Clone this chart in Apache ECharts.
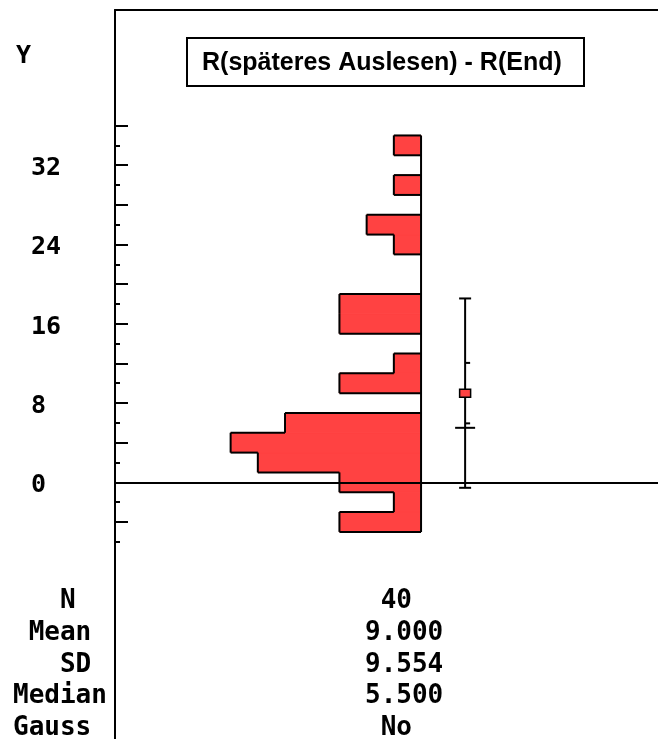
<!DOCTYPE html>
<html>
<head>
<meta charset="utf-8">
<script src="https://cdn.jsdelivr.net/npm/echarts@6.0.0/dist/echarts.min.js"></script>
<style>
html,body{margin:0;padding:0;background:#fff;}
#chart{width:658px;height:739px;}
</style>
</head>
<body>
<div id="chart"></div>
<script>
// ---- data ----
const chartTitle = 'R(späteres Auslesen) - R(End)';
const axisName = 'Y';
const binLow  = [-5, -3, -1, 1, 3, 5, 7, 9, 11, 13, 15, 17, 19, 21, 23, 25, 27, 29, 31, 33];
const binHigh = [-3, -1, 1, 3, 5, 7, 9, 11, 13, 15, 17, 19, 21, 23, 25, 27, 29, 31, 33, 35];
const counts  = [3, 1, 3, 6, 7, 5, 0, 3, 1, 0, 3, 3, 0, 0, 1, 2, 0, 1, 0, 1];
const yLabelValues = [0, 8, 16, 24, 32];
const yMajorTicks = [-4, 0, 4, 8, 12, 16, 20, 24, 28, 32, 36];
const yMinorTicks = [-6, -2, 2, 6, 10, 14, 18, 22, 26, 30, 34];
const meanValue = 9.0;
const sdValue = 9.554;
const medianValue = 5.5;
const ciLow = 5.95;
const ciHigh = 12.05;
const statLabels = ['   N', ' Mean', '   SD', 'Median', 'Gauss'];
const statValues = [' 40', '9.000', '9.554', '5.500', ' No'];

// ---- layout / style constants ----
const RED = '#ff4242';
const MONO = 'DejaVu Sans Mono';
const Y_MIN = -25.9, Y_MAX = 47.66;
const X_MIN = -8.71, X_MAX = 11.25;
const ERR_X = -1.62;
const statRowY = [601, 633, 665, 696, 728];

const chart = echarts.init(document.getElementById('chart'), null, {renderer: 'canvas'});

const histData = binLow.map((lo, i) => [counts[i], lo, binHigh[i]]);

const lineEl = (a, b) => ({
  type: 'line',
  shape: {x1: a[0], y1: a[1], x2: b[0], y2: b[1]},
  style: {stroke: '#000', lineWidth: 2}
});

const graphics = [
  {type: 'text', x: 16, y: 56, style: {text: axisName, fontFamily: MONO, fontWeight: 'bold', fontSize: 25, fill: '#000', align: 'left', verticalAlign: 'middle'}}
];
statLabels.forEach((t, i) => {
  graphics.push({type: 'text', x: 13, y: statRowY[i], style: {text: t, fontFamily: MONO, fontWeight: 'bold', fontSize: 26, fill: '#000', align: 'left', verticalAlign: 'middle'}});
});
statValues.forEach((t, i) => {
  graphics.push({type: 'text', x: 365, y: statRowY[i], style: {text: t, fontFamily: MONO, fontWeight: 'bold', fontSize: 26, fill: '#000', align: 'left', verticalAlign: 'middle'}});
});

const option = {
  animation: false,
  backgroundColor: '#fff',
  title: {
    text: chartTitle,
    left: 187, top: 38,
    borderColor: '#000', borderWidth: 2,
    padding: [13, 22, 11, 15],
    textStyle: {fontFamily: 'Liberation Sans', fontSize: 25, fontWeight: 'bold', color: '#000', lineHeight: 24}
  },
  grid: {left: 115, right: 0, top: 10, bottom: 0},
  xAxis: [
    {type: 'value', inverse: true, min: X_MIN, max: X_MAX, position: 'bottom', z: 10,
     axisLine: {show: true, onZero: true, lineStyle: {color: '#000', width: 2}},
     axisTick: {show: false}, axisLabel: {show: false}, splitLine: {show: false}},
    {type: 'value', inverse: true, min: X_MIN, max: X_MAX, position: 'top',
     axisLine: {show: true, onZero: false, lineStyle: {color: '#000', width: 2}},
     axisTick: {show: false}, axisLabel: {show: false}, splitLine: {show: false}}
  ],
  yAxis: [
    {type: 'value', min: Y_MIN, max: Y_MAX, position: 'left',
     axisLine: {show: true, onZero: false, lineStyle: {color: '#000', width: 2}},
     axisTick: {show: true, inside: true, length: 13, customValues: yMajorTicks, lineStyle: {color: '#000', width: 2}},
     axisLabel: {show: true, customValues: yLabelValues, align: 'left', margin: 84,
                 formatter: v => '{a|' + v + '}',
                 rich: {a: {fontFamily: MONO, fontWeight: 'bold', fontSize: 25, color: '#000', padding: [7, 0, 0, 0]}},
                 fontFamily: MONO, fontWeight: 'bold', fontSize: 25, color: '#000'},
     splitLine: {show: false}},
    {type: 'value', min: Y_MIN, max: Y_MAX, position: 'left',
     axisLine: {show: false, onZero: false},
     axisTick: {show: true, inside: true, length: 5, customValues: yMinorTicks, lineStyle: {color: '#000', width: 2}},
     axisLabel: {show: false}, splitLine: {show: false}}
  ],
  graphic: graphics,
  series: [
    {
      type: 'custom', xAxisIndex: 0, yAxisIndex: 0, z: 2,
      data: histData,
      encode: {x: 0, y: [1, 2]},
      renderItem: (params, api) => {
        const c = api.value(0), lo = api.value(1), hi = api.value(2);
        if (!c) return {type: 'group', children: []};
        const p1 = api.coord([c, hi]);
        const p0 = api.coord([0, lo]);
        return {type: 'rect', shape: {x: p1[0], y: p1[1], width: p0[0] - p1[0], height: p0[1] - p1[1]},
                style: {fill: RED, stroke: RED, lineWidth: 1}};
      }
    },
    {
      type: 'custom', xAxisIndex: 0, yAxisIndex: 0, z: 3,
      data: histData,
      encode: {x: 0, y: [1, 2]},
      renderItem: (params, api) => {
        const i = params.dataIndex;
        const c = api.value(0), lo = api.value(1), hi = api.value(2);
        const n = counts.length;
        const children = [];
        if (c > 0) children.push(lineEl(api.coord([c, lo]), api.coord([c, hi])));
        const cAbove = i + 1 < n ? counts[i + 1] : 0;
        if (c !== cAbove) children.push(lineEl(api.coord([Math.min(c, cAbove), hi]), api.coord([Math.max(c, cAbove), hi])));
        if (i === 0) {
          if (c > 0) children.push(lineEl(api.coord([0, lo]), api.coord([c, lo])));
          children.push(lineEl(api.coord([0, binLow[0]]), api.coord([0, binHigh[n - 1]])));
        }
        return {type: 'group', children};
      }
    },
    {
      type: 'custom', xAxisIndex: 0, yAxisIndex: 0, z: 4,
      data: [[ERR_X, meanValue, sdValue, medianValue, ciLow, ciHigh]],
      encode: {x: 0, y: 1},
      renderItem: (params, api) => {
        const ex = api.value(0), m = api.value(1), sd = api.value(2), med = api.value(3), cl = api.value(4), ch = api.value(5);
        const pTop = api.coord([ex, m + sd]);
        const pBot = api.coord([ex, m - sd]);
        const pMean = api.coord([ex, m]);
        const pMed = api.coord([ex, med]);
        const pCl = api.coord([ex, cl]);
        const pCh = api.coord([ex, ch]);
        const x = pTop[0];
        return {type: 'group', children: [
          lineEl(pTop, pBot),
          lineEl([x - 6, pTop[1]], [x + 6, pTop[1]]),
          lineEl([x - 6, pBot[1]], [x + 6, pBot[1]]),
          lineEl([x, pCh[1]], [x + 5, pCh[1]]),
          lineEl([x, pCl[1]], [x + 5, pCl[1]]),
          lineEl([x - 10, pMed[1]], [x + 10, pMed[1]]),
          {type: 'rect', shape: {x: x - 5.5, y: pMean[1] - 4, width: 11, height: 8},
           style: {fill: RED, stroke: '#000', lineWidth: 1.5}}
        ]};
      }
    }
  ]
};
chart.setOption(option);
</script>
</body>
</html>
